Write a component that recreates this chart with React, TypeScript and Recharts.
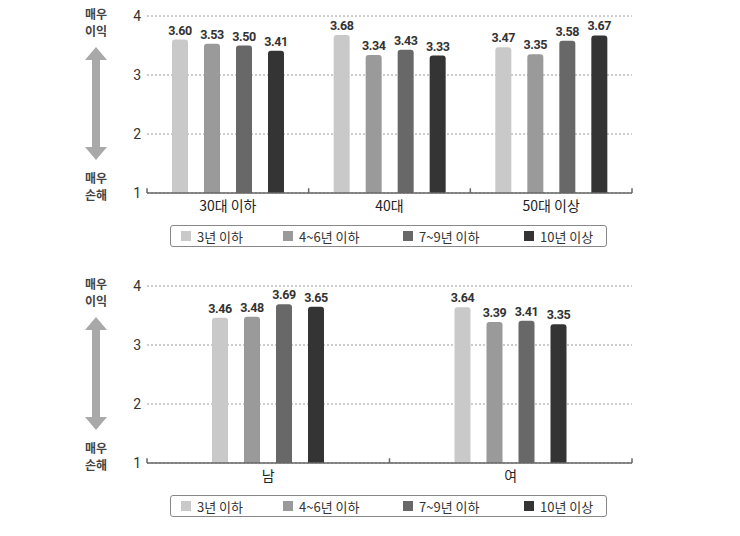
import React from 'react';
import { BarChart, Bar, XAxis, YAxis, CartesianGrid, LabelList, ReferenceLine } from 'recharts';

const seriesNames = ['3년 이하', '4~6년 이하', '7~9년 이하', '10년 이상'];
const seriesColors = ['#c9c9c9', '#9a9a9a', '#686868', '#343434'];
const yTicks = [1, 2, 3, 4];

// 연령별
const ageGroups = ['30대 이하', '40대', '50대 이상'];
const ageUnder3 = [3.60, 3.68, 3.47];
const age4to6 = [3.53, 3.34, 3.35];
const age7to9 = [3.50, 3.43, 3.58];
const age10plus = [3.41, 3.33, 3.67];

// 성별
const genders = ['남', '여'];
const genUnder3 = [3.46, 3.64];
const gen4to6 = [3.48, 3.39];
const gen7to9 = [3.69, 3.41];
const gen10plus = [3.65, 3.35];

const keys = ['s0', 's1', 's2', 's3'];

function buildRows(cats: string[], series: number[][]) {
    return cats.map((c, i) => {
        const row: any = { name: c, idx: i + 0.5 };
        series.forEach((s, k) => { row[keys[k]] = s[i]; });
        return row;
    });
}

const ageData = buildRows(ageGroups, [ageUnder3, age4to6, age7to9, age10plus]);
const genderData = buildRows(genders, [genUnder3, gen4to6, gen7to9, gen10plus]);

const FONT = '"Noto Sans CJK KR", "Noto Sans", sans-serif';

function SideNote({ top }: { top: number }) {
    const txt = { fontFamily: FONT, fontSize: 12, fontWeight: 700, fill: '#444' } as any;
    return (
        <svg width={60} height={205} style={{ position: 'absolute', left: 66, top }}>
            <text x={30} y={19} textAnchor="middle" {...txt}>매우</text>
            <text x={30} y={36} textAnchor="middle" {...txt}>이익</text>
            <path d="M30 47 L41 60 L34 60 L34 147 L41 147 L30 160 L19 147 L26 147 L26 60 L19 60 Z" fill="#a9a9a9" />
            <text x={30} y={183} textAnchor="middle" {...txt}>매우</text>
            <text x={30} y={200} textAnchor="middle" {...txt}>손해</text>
        </svg>
    );
}

function LegendBox({ top }: { top: number }) {
    const widths = [102, 120, 121, 80];
    return (
        <div style={{
            position: 'absolute', left: 170, top, width: 435, height: 20, border: '1px solid #888',
            borderRadius: 3, display: 'flex', alignItems: 'center', boxSizing: 'content-box'
        }}>
            <div style={{ width: 10 }} />
            {seriesNames.map((n, i) => (
                <div key={n} style={{ width: widths[i], display: 'flex', alignItems: 'center' }}>
                    <span style={{ width: 10, height: 10, background: seriesColors[i], marginRight: 6, display: 'inline-block' }} />
                    <span style={{ fontFamily: FONT, fontSize: 13, color: '#333' }}>{n}</span>
                </div>
            ))}
        </div>
    );
}

function Panel({ data, top }: { data: any[]; top: number }) {
    const n = data.length;
    const edges = Array.from({ length: n + 1 }, (_, i) => i);
    return (
        <div style={{ position: 'absolute', left: 0, top }}>
            <BarChart width={740} height={215} data={data} barSize={16} barGap={16}
                margin={{ top: 16, right: 108, bottom: 0, left: 0 }}>
                <CartesianGrid horizontal vertical={false} stroke="#9a9a9a" strokeDasharray="2 2" />
                <XAxis xAxisId="edge" type="number" dataKey="idx" domain={[0, n]} hide />
                <XAxis dataKey="name" height={22} tickLine={false} tickSize={6} tickMargin={2}
                    axisLine={{ stroke: '#666', strokeWidth: 1.5 }}
                    tick={{ fontFamily: FONT, fontSize: 14, fill: '#222' }} />
                <YAxis domain={[1, 4]} ticks={yTicks} width={147} axisLine={false} tickLine={false}
                    tickSize={0} tickMargin={6} tick={{ fontFamily: 'Roboto, sans-serif', fontSize: 14, fill: '#333' }} />
                {keys.map((k, i) => (
                    <Bar key={k} dataKey={k} fill={seriesColors[i]} radius={[3, 3, 0, 0]} isAnimationActive={false}>
                        <LabelList dataKey={k} position="top" offset={5}
                            formatter={(v: any) => Number(v).toFixed(2)}
                            style={{ fontFamily: 'Roboto, sans-serif', fontSize: 12.5, fontWeight: 700, fill: '#333', letterSpacing: -0.4 }} />
                    </Bar>
                ))}
                {edges.map(e => (
                    <ReferenceLine key={e} xAxisId="edge" segment={[{ x: e, y: 1 }, { x: e, y: 1.08 }]}
                        stroke="#666" strokeWidth={1.5} ifOverflow="visible" />
                ))}
            </BarChart>
        </div>
    );
}

export default function App() {
    return (
        <div style={{ position: 'relative', width: 740, height: 536, margin: -8, background: '#fff', overflow: 'hidden' }}>
            <SideNote top={0} />
            <Panel data={ageData} top={0} />
            <LegendBox top={225} />
            <SideNote top={270} />
            <Panel data={genderData} top={270} />
            <LegendBox top={495} />
        </div>
    );
}
